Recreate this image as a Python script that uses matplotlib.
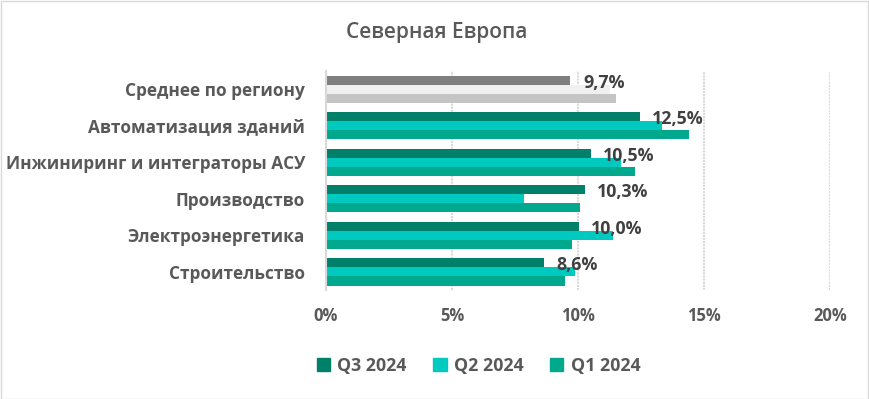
import matplotlib

matplotlib.use("Agg")
import matplotlib.pyplot as plt
import numpy as np
from matplotlib.patches import Rectangle

categories = ["Среднее по региону", "Автоматизация зданий",
              "Инжиниринг и интеграторы АСУ", "Производство",
              "Электроэнергетика", "Строительство"]
q3 = [9.7, 12.45, 10.5, 10.26, 10.03, 8.64]
q2 = [11.26, 13.35, 11.7, 7.84, 11.38, 9.87]
q1 = [11.52, 14.4, 12.28, 10.07, 9.75, 9.47]
labels = ["9,7%", "12,5%", "10,5%", "10,3%", "10,0%", "8,6%"]
series_names = ["Q3 2024", "Q2 2024", "Q1 2024"]
xticks = [0, 5, 10, 15, 20]

TEAL_DARK = "#008069"
TEAL_LIGHT = "#00c9bf"
TEAL_MID = "#00a88e"
AVG_COLORS = ["#7f7f7f", "#f0f0f0", "#c4c4c4"]
INK = "#404040"
INK2 = "#595959"
GRID = "#d9d9d9"

plt.rcParams["font.family"] = ["Open Sans", "DejaVu Sans"]

fig = plt.figure(figsize=(8.7, 3.99), dpi=100)
ax = fig.add_axes([0.3747, 0.273, 0.5793, 0.549])

y = np.arange(len(categories))
h = 0.25
colors = [TEAL_DARK, TEAL_LIGHT, TEAL_MID]
for k, (vals, col) in enumerate(zip([q3, q2, q1], colors)):
    offs = (k - 1) * h
    bar_cols = [AVG_COLORS[k]] + [col] * (len(categories) - 1)
    ax.barh(y + offs, vals, height=h, color=bar_cols, zorder=2,
            label=series_names[k])

for yi, v, lab in zip(y, q3, labels):
    ax.annotate(lab, (v, yi - h), xytext=(9, -2), textcoords="offset points",
                ha="left", va="center", fontsize=12.8, fontweight="bold",
                color=INK, zorder=3)

ax.set_xlim(0, 20)
ax.set_ylim(5.5, -0.5)
ax.set_xticks(xticks, [f"{t}%" for t in xticks])
ax.set_yticks(y, categories)
ax.tick_params(length=0)
ax.tick_params(axis="x", pad=12, labelsize=12, labelcolor=INK2)
ax.tick_params(axis="y", pad=15, labelsize=12.4, labelcolor=INK2)
for t in ax.get_yticklabels() + ax.get_xticklabels():
    t.set_fontweight("bold")
ax.grid(axis="x", color=GRID, lw=1.5, linestyle=(0, (1, 0.5)), zorder=0)
ax.set_axisbelow(True)
for s in ["top", "right", "bottom"]:
    ax.spines[s].set_visible(False)
ax.spines["left"].set_color(GRID)
ax.spines["left"].set_linewidth(1.5)

fig.text(0.502, 0.918, "Северная Европа", ha="center", va="center",
         fontsize=15, fontweight="semibold", color=INK2)

handles = [Rectangle((0, 0), 1, 1, color=c) for c in colors]
fig.legend(handles, series_names, loc="center", bbox_to_anchor=(0.55, 0.083),
           ncol=3, frameon=False, handlelength=0.75, handleheight=0.75,
           handletextpad=0.4, columnspacing=1.5,
           prop={"size": 12.8, "weight": "bold"}, labelcolor=INK2)

fig.patches.append(Rectangle((0.001, 0.001), 0.997, 0.996,
                             transform=fig.transFigure, fill=False,
                             edgecolor=GRID, lw=1))

fig.savefig("out.png", dpi=100)
